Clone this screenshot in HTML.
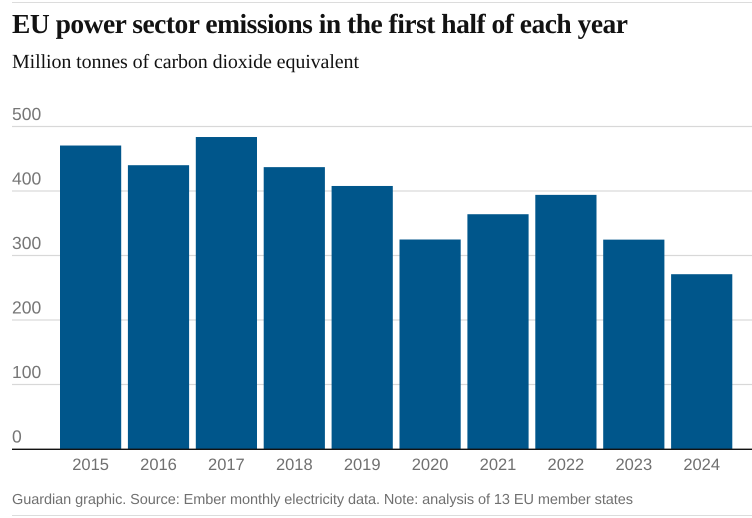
<!DOCTYPE html>
<html lang="en">
<head>
<meta charset="utf-8">
<title>EU power sector emissions</title>
<style>
  html, body { margin: 0; padding: 0; background: #fff; width: 752px; height: 518px; overflow: hidden; }
  svg { display: block; }
  text { text-rendering: geometricPrecision; }
</style>
</head>
<body>
<svg id="chart" xmlns="http://www.w3.org/2000/svg" width="752" height="518" viewBox="0 0 752 518">
  <rect x="0" y="0" width="752" height="518" fill="#ffffff"/>
  <rect x="12" y="2" width="740" height="1" fill="#dcdcdc"/>
  <text x="12" y="33" font-family="'Liberation Serif', serif" font-weight="700" font-size="27.5" fill="#121212" textLength="616" lengthAdjust="spacing">EU power sector emissions in the first half of each year</text>
  <text x="12" y="68" font-family="'Liberation Serif', serif" font-size="20" fill="#121212" textLength="347" lengthAdjust="spacing">Million tonnes of carbon dioxide equivalent</text>
  <g id="grid"></g>
  <g id="bars"></g>
  <g id="xlabels"></g>
  <rect x="12" y="448.6" width="740" height="1.4" fill="#121212"/>
  <text x="12" y="504" font-family="'Liberation Sans', sans-serif" font-size="14.5" fill="#707070" textLength="621" lengthAdjust="spacing">Guardian graphic. Source: Ember monthly electricity data. Note: analysis of 13 EU member states</text>
  <rect x="12" y="515" width="740" height="1" fill="#dcdcdc"/>
</svg>
<script>
const categories = ['2015', '2016', '2017', '2018', '2019', '2020', '2021', '2022', '2023', '2024'];
const emissions = [470.5, 440, 483.7, 437, 407.8, 324.8, 364, 394, 324.6, 271];
const yTicks = [0, 100, 200, 300, 400, 500];

const NS = 'http://www.w3.org/2000/svg';
const yAxis = function (v) { return 449 - v * 0.645; };
const step = 67.9;
const barWidth = 61.2;
const xAxis = function (i) { return 60 + i * step; };

const grid = document.getElementById('grid');
const bars = document.getElementById('bars');
const xlabels = document.getElementById('xlabels');

yTicks.forEach(function (t) {
  if (t !== 0) {
    const line = document.createElementNS(NS, 'rect');
    
    
    line.setAttribute('x', 12);
    line.setAttribute('y', yAxis(t) - 0.6);
    line.setAttribute('width', 740);
    line.setAttribute('height', 1.2);
    line.setAttribute('fill', '#d8d8d8');
    grid.appendChild(line);
  }
  const label = document.createElementNS(NS, 'text');
  
  
  label.setAttribute('x', 12);
  label.setAttribute('y', yAxis(t) - 6.5);
  label.setAttribute('font-family', "'Liberation Sans', sans-serif");
  label.setAttribute('font-size', '17.5');
  label.setAttribute('fill', '#767676');
  label.textContent = String(t);
  grid.appendChild(label);
});

categories.forEach(function (c, i) {
  const bar = document.createElementNS(NS, 'rect');
  
  
  bar.setAttribute('x', xAxis(i));
  bar.setAttribute('y', yAxis(emissions[i]));
  bar.setAttribute('width', barWidth);
  bar.setAttribute('height', yAxis(0) - yAxis(emissions[i]));
  bar.setAttribute('fill', '#00568b');
  bars.appendChild(bar);

  const label = document.createElementNS(NS, 'text');
  
  
  label.setAttribute('x', xAxis(i) + barWidth / 2);
  label.setAttribute('y', 470);
  label.setAttribute('text-anchor', 'middle');
  label.setAttribute('font-family', "'Liberation Sans', sans-serif");
  label.setAttribute('font-size', '16.5');
  label.setAttribute('fill', '#707070');
  label.textContent = c;
  xlabels.appendChild(label);
});
</script>
</body>
</html>
